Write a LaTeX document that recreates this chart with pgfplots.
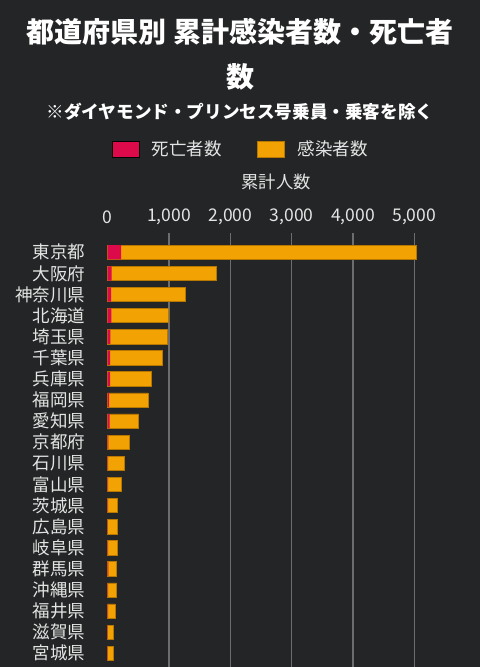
\documentclass[border=0pt]{standalone}
\usepackage{fontspec}
\setmainfont{Noto Sans CJK JP}
\usepackage{pgfplots}
\pgfplotsset{compat=1.18}
\definecolor{bg}{HTML}{232526}
\definecolor{barred}{HTML}{DC0A4B}
\definecolor{barorange}{HTML}{F2A202}
\definecolor{baredge}{HTML}{B87800}
\definecolor{gridc}{HTML}{6B6D6E}
\definecolor{txt}{HTML}{E4E4E4}
\begin{document}
\begin{tikzpicture}[x=1pt,y=1pt]
\path[use as bounding box, fill=bg] (0,0) rectangle (480,667);
\node[text=white, font=\fontsize{28}{32}\selectfont\bfseries] at (240,635) {都道府県別 累計感染者数・死亡者};
\node[text=white, font=\fontsize{28}{32}\selectfont\bfseries] at (240,590) {数};
\node[text=white, font=\fontsize{17.6}{20}\selectfont\bfseries] at (240,555) {※ダイヤモンド・プリンセス号乗員・乗客を除く};
\begin{axis}[
  at={(107.7pt,0pt)}, anchor=south west,
  scale only axis, width=337.2pt, height=434pt,
  xbar, bar width=14.3pt,
  xmin=0, xmax=5500,
  ymin=-0.915, ymax=19.65, y dir=reverse,
  ytick={0,...,19},
  yticklabels={東京都,大阪府,神奈川県,北海道,埼玉県,千葉県,兵庫県,福岡県,愛知県,京都府,石川県,富山県,茨城県,広島県,岐阜県,群馬県,沖縄県,福井県,滋賀県,宮城県},
  yticklabel style={anchor=east, inner sep=0pt, xshift=-22pt, text=txt, font=\fontsize{17.5}{20}\selectfont},
  xtick={0,1000,2000,3000,4000,5000},
  xticklabel pos=upper,
  xticklabel style={anchor=center, inner sep=0pt, yshift=16pt, text=txt, font=\fontsize{17.5}{20}\selectfont},
  /pgf/number format/assume math mode=true,
  /pgf/number format/1000 sep={,},
  extra x ticks={1000,2000,3000,4000,5000},
  extra x tick labels={},
  extra x tick style={grid=major, major grid style={draw=gridc, line width=1.3pt}},
  axis line style={draw=none},
  major tick length=0pt,
  xlabel={累計人数},
  xlabel style={at={(axis description cs:0.5,1.1175)}, anchor=center, inner sep=0pt, text=txt, font=\fontsize{17.3}{20}\selectfont},
  clip=false,
  legend columns=2,
  legend image code/.code={\fill[#1] (0pt,-8pt) rectangle (27pt,8pt);},
  legend style={at={(axis description cs:0.394,1.1935)}, anchor=center, draw=none, fill=none, text=txt, font=\fontsize{17.5}{20}\selectfont,
    /tikz/every odd column/.append style={column sep=11pt},
    /tikz/every even column/.append style={column sep=33pt}},
]
\addlegendimage{fill=barred}
\addlegendentry{死亡者数}
\addplot[fill=barorange, draw=baredge, line width=0.6pt, bar shift=0pt] coordinates {
(5029,0) (1765,1) (1258,2) (991,3) (980,4) (898,5) (703,6) (659,7) (506,8) (353,9)
(277,10) (217,11) (163,12) (157,13) (155,14) (142,15) (140,16) (119,17) (98,18) (87,19)};
\addlegendentry{感染者数}
\addplot[fill=barred, draw=none, bar shift=0pt, forget plot] coordinates {
(217,0) (65,1) (55,2) (60,3) (45,4) (40,5) (38,6) (22,7) (32,8) (13,9)
(8,10) (8,11) (5,12) (3,13) (6,14) (12,15) (5,16) (6,17) (1,18) (1,19)};
\end{axis}
\end{tikzpicture}
\end{document}
